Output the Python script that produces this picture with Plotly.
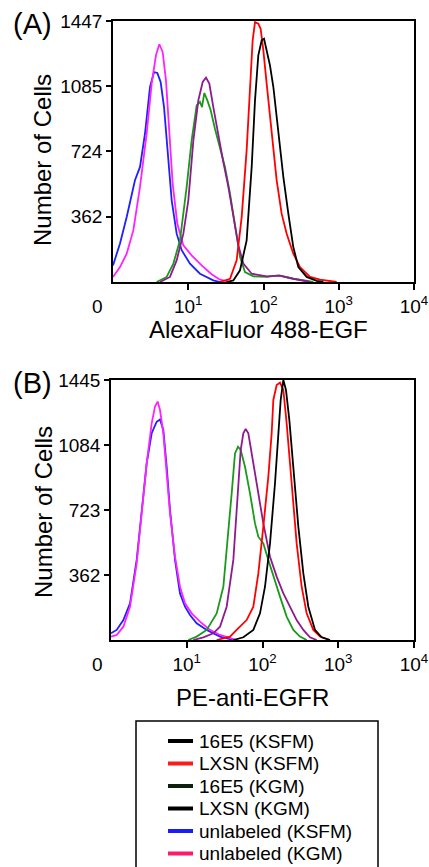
import numpy as np
import plotly.graph_objects as go

W, H = 429, 867

# ---------------- data (log10 fluorescence, number of cells) ----------------
# Panel A: AlexaFluor 488-EGF
a_blue_lx = [0, 0.093, 0.182, 0.292, 0.359, 0.425, 0.492, 0.545, 0.589, 0.633, 0.678, 0.722, 0.780, 0.846, 0.913, 1.023, 1.156, 1.333, 1.422]
a_blue_y = [92, 213, 360, 564, 638, 822, 1081, 1164, 1159, 1109, 970, 730, 453, 268, 176, 102, 46, 9, 0]

a_mag_lx = [0, 0.093, 0.182, 0.270, 0.359, 0.447, 0.514, 0.571, 0.616, 0.660, 0.704, 0.749, 0.793, 0.855, 0.935, 1.045, 1.178, 1.311, 1.422, 1.555]
a_mag_y = [28, 83, 157, 286, 527, 822, 1100, 1257, 1318, 1275, 1118, 841, 545, 323, 203, 148, 92, 43, 13, 0]

a_green_lx = [0.580, 0.713, 0.802, 0.890, 0.979, 1.045, 1.112, 1.156, 1.183, 1.214, 1.254, 1.298, 1.355, 1.422, 1.488, 1.555, 1.621, 1.688, 1.754, 1.865, 2.042, 2.197, 2.396, 2.574, 2.662]
a_green_y = [0, 28, 102, 231, 527, 785, 979, 998, 970, 1048, 1007, 952, 850, 748, 638, 490, 305, 139, 55, 31, 28, 37, 18, 4, 0]

a_purple_lx = [0.625, 0.757, 0.846, 0.935, 1.001, 1.068, 1.134, 1.192, 1.236, 1.280, 1.333, 1.400, 1.466, 1.533, 1.599, 1.666, 1.732, 1.843, 2.042, 2.219, 2.396, 2.618]
a_purple_y = [0, 28, 120, 268, 453, 785, 1007, 1109, 1133, 1100, 970, 804, 665, 527, 360, 203, 102, 46, 31, 35, 18, 0]

a_red_lx = [1.422, 1.555, 1.643, 1.710, 1.776, 1.821, 1.856, 1.887, 1.931, 1.962, 1.998, 2.042, 2.109, 2.175, 2.241, 2.308, 2.396, 2.485, 2.618, 2.751, 2.972]
a_red_y = [0, 18, 120, 360, 730, 1100, 1340, 1441, 1432, 1404, 1284, 1100, 822, 564, 379, 268, 157, 83, 28, 13, 0]

a_black_lx = [1.510, 1.599, 1.688, 1.776, 1.843, 1.887, 1.931, 1.976, 2.007, 2.042, 2.086, 2.131, 2.197, 2.264, 2.330, 2.396, 2.463, 2.574, 2.707, 2.795]
a_black_y = [0, 9, 65, 231, 638, 1007, 1257, 1340, 1349, 1284, 1201, 1081, 822, 582, 379, 194, 83, 28, 6, 0]

# Panel B: PE-anti-EGFR
b_blue_lx = [0, 0.075, 0.163, 0.251, 0.339, 0.405, 0.471, 0.537, 0.603, 0.647, 0.691, 0.735, 0.779, 0.845, 0.911, 0.977, 1.043, 1.131, 1.263, 1.439, 1.615]
b_blue_y = [37, 56, 111, 204, 445, 723, 982, 1149, 1213, 1226, 1167, 963, 723, 445, 259, 185, 139, 93, 56, 19, 0]

b_mag_lx = [0, 0.075, 0.163, 0.251, 0.339, 0.405, 0.471, 0.537, 0.581, 0.616, 0.647, 0.691, 0.735, 0.779, 0.845, 0.911, 0.977, 1.065, 1.175, 1.307, 1.439, 1.571, 1.659]
b_mag_y = [19, 28, 74, 185, 426, 704, 982, 1204, 1297, 1325, 1278, 1149, 945, 704, 463, 296, 204, 148, 102, 56, 28, 9, 0]

b_green_lx = [1.021, 1.131, 1.263, 1.395, 1.483, 1.549, 1.593, 1.637, 1.677, 1.712, 1.769, 1.835, 1.901, 1.945, 2.011, 2.077, 2.143, 2.231, 2.319, 2.407, 2.495, 2.583]
b_green_y = [0, 19, 56, 148, 296, 593, 815, 1037, 1074, 1056, 963, 815, 648, 574, 537, 445, 352, 241, 130, 56, 19, 0]

b_purple_lx = [1.087, 1.219, 1.351, 1.439, 1.527, 1.615, 1.668, 1.712, 1.747, 1.778, 1.813, 1.857, 1.923, 2.011, 2.099, 2.187, 2.275, 2.363, 2.451, 2.539, 2.627, 2.715]
b_purple_y = [0, 15, 37, 74, 185, 445, 778, 1056, 1149, 1173, 1149, 1037, 852, 648, 463, 352, 259, 185, 111, 56, 15, 0]

b_red_lx = [1.395, 1.571, 1.659, 1.791, 1.879, 1.945, 2.011, 2.077, 2.121, 2.143, 2.187, 2.231, 2.275, 2.319, 2.385, 2.451, 2.517, 2.583, 2.671, 2.759, 2.891]
b_red_y = [0, 19, 56, 111, 185, 370, 630, 908, 1149, 1334, 1417, 1430, 1390, 1204, 871, 537, 296, 148, 56, 19, 0]

b_black_lx = [1.615, 1.747, 1.879, 1.967, 2.033, 2.099, 2.165, 2.209, 2.240, 2.275, 2.310, 2.354, 2.407, 2.473, 2.539, 2.605, 2.693, 2.781, 2.891]
b_black_y = [0, 15, 56, 148, 296, 537, 871, 1149, 1334, 1445, 1390, 1223, 963, 630, 370, 185, 56, 15, 0]

a_yticks = [362, 724, 1085, 1447]
b_yticks = [362, 723, 1084, 1445]
x_tickvals = [10, 100, 1000, 10000]
x_ticktext = ["10<sup>1</sup>", "10<sup>2</sup>", "10<sup>3</sup>", "10<sup>4</sup>"]

legend_labels = ["16E5 (KSFM)", "LXSN (KSFM)", "16E5 (KGM)", "LXSN (KGM)",
                 "unlabeled (KSFM)", "unlabeled (KGM)"]
legend_colors = ["#000000", "#ff1a1a", "#0d1f0d", "#000000", "#1a1aff", "#ff1a66"]

# ---------------- figure ----------------
FONT = "Liberation Sans, Arial, Helvetica, sans-serif"

def px(x):
    return x / W

def py(y):
    return 1 - y / H

BLUE, MAG, GREEN, PURPLE, RED, BLACK = "#1f1fff", "#ff22ff", "#1a9a1a", "#8e1a8e", "#ff0000", "#000000"

fig = go.Figure()

panel_a = [(a_blue_lx, a_blue_y, BLUE), (a_mag_lx, a_mag_y, MAG),
           (a_green_lx, a_green_y, GREEN), (a_purple_lx, a_purple_y, PURPLE),
           (a_red_lx, a_red_y, RED), (a_black_lx, a_black_y, BLACK)]
panel_b = [(b_blue_lx, b_blue_y, BLUE), (b_mag_lx, b_mag_y, MAG),
           (b_green_lx, b_green_y, GREEN), (b_purple_lx, b_purple_y, PURPLE),
           (b_red_lx, b_red_y, RED), (b_black_lx, b_black_y, BLACK)]

for lx, yv, c in panel_a:
    fig.add_trace(go.Scatter(x=np.power(10.0, lx), y=yv, mode="lines",
                             line=dict(color=c, width=1.8), xaxis="x", yaxis="y",
                             showlegend=False, hoverinfo="skip"))
for lx, yv, c in panel_b:
    fig.add_trace(go.Scatter(x=np.power(10.0, lx), y=yv, mode="lines",
                             line=dict(color=c, width=1.8), xaxis="x2", yaxis="y2",
                             showlegend=False, hoverinfo="skip"))

xcommon = dict(type="log", range=[0, 4], showline=True, linecolor="black", linewidth=1.5,
               mirror=True, ticks="outside", ticklen=6, tickwidth=1.5, tickcolor="black",
               tickvals=x_tickvals, ticktext=x_ticktext, showgrid=False, zeroline=False,
               automargin=False,
               tickfont=dict(family=FONT, size=19, color="black"), fixedrange=True)
ycommon = dict(showline=True, linecolor="black", linewidth=1.5, mirror=True,
               ticks="outside", ticklen=5, tickwidth=1.5, tickcolor="black",
               showgrid=False, zeroline=False, automargin=False,
               tickfont=dict(family=FONT, size=19, color="black"), fixedrange=True)

fig.update_layout(
    width=W, height=H, margin=dict(l=0, r=0, t=0, b=0, pad=0, autoexpand=False),
    paper_bgcolor="white", plot_bgcolor="white", showlegend=False,
    xaxis=dict(xcommon, domain=[px(113), px(414)], anchor="y"),
    yaxis=dict(ycommon, domain=[py(282), py(21)], range=[0, 1447], tickvals=a_yticks, anchor="x"),
    xaxis2=dict(xcommon, domain=[px(111), px(414)], anchor="y2"),
    yaxis2=dict(ycommon, domain=[py(640), py(380)], range=[0, 1445], tickvals=b_yticks, anchor="x2"),
)

ann = []
def text(x, y, s, size, xanchor="center", yanchor="middle", angle=0):
    ann.append(dict(x=px(x), y=py(y), xref="paper", yref="paper", text=s, showarrow=False,
                    xanchor=xanchor, yanchor=yanchor, textangle=angle, borderpad=0,
                    font=dict(family=FONT, size=size, color="black")))

text(32, 24, "(A)", 29)
text(32, 383, "(B)", 29)
text(43, 160, "Number of Cells", 24, angle=-90)
text(43, 512, "Number of Cells", 24, angle=-90)
text(258, 329, "AlexaFluor 488-EGF", 24)
text(252, 697, "PE-anti-EGFR", 24)
text(97, 306, "0", 19)
text(97, 664, "0", 19)

shapes = [dict(type="rect", xref="paper", yref="paper", x0=px(136), x1=px(378),
               y0=py(870), y1=py(721), line=dict(color="black", width=1.5))]
row_y0, row_dy = 741, 22.5
for i, (lab, col) in enumerate(zip(legend_labels, legend_colors)):
    yy = row_y0 + i * row_dy
    shapes.append(dict(type="line", xref="paper", yref="paper", x0=px(168), x1=px(193),
                       y0=py(yy), y1=py(yy), line=dict(color=col, width=4)))
    text(198, yy, lab, 19, xanchor="left")

fig.update_layout(annotations=ann, shapes=shapes)
fig.write_html("out.html", config={"responsive": False, "displayModeBar": False},
               post_script="document.body.style.margin='0px';document.body.style.overflow='hidden';")
